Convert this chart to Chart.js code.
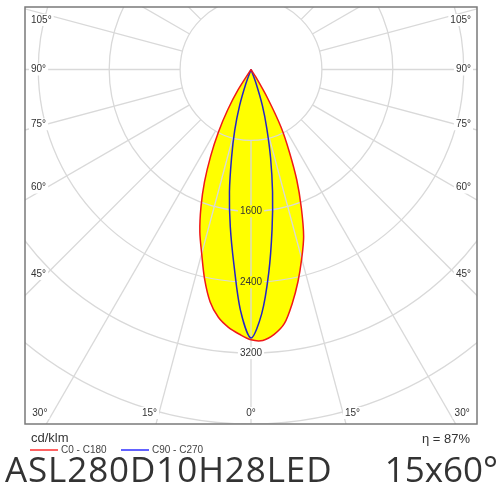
<!DOCTYPE html>
<html>
<head>
<meta charset="utf-8">
<script src="https://cdn.jsdelivr.net/npm/chart.js@4.4.1/dist/chart.umd.min.js"></script>
<style>
  html, body { margin: 0; padding: 0; background: #fff; }
</style>
</head>
<body>
<canvas id="chart" width="500" height="500"></canvas>
<script>
// gamma angles in degrees from nadir, intensities in cd/klm
const gammaAngles = [0, 2.5, 5, 7.5, 10, 12.5, 15, 17.5, 20, 22.5, 25, 27.5, 30, 32.5, 35, 37.5, 40, 50, 60, 70, 80, 90];
const c0   = [3050, 3060, 3000, 2890, 2680, 2450, 2210, 1975, 1660, 1350, 1020, 735, 375, 100, 0, 0, 0, 0, 0, 0, 0, 0];
const c180 = [3050, 2990, 2920, 2820, 2660, 2420, 2150, 1920, 1650, 1370, 1075, 795, 525, 270, 15, 0, 0, 0, 0, 0, 0, 0];
const c90  = [3030, 2760, 2300, 1820, 1400, 1020, 690, 430, 165, 0, 0, 0, 0, 0, 0, 0, 0, 0, 0, 0, 0, 0];
const c270 = [3030, 2720, 2210, 1790, 1400, 1010, 710, 430, 160, 0, 0, 0, 0, 0, 0, 0, 0, 0, 0, 0, 0, 0];

const seriesNames = ['C0 - C180', 'C90 - C270'];
const intensityTicks = [1600, 2400, 3200];
const gridCircles = [800, 1600, 2400, 3200, 4000, 4800, 5600, 6400];
const sideAngles = [105, 90, 75, 60, 45];
const bottomAngles = [30, 15, 0];
const unitLabel = 'cd/klm';
const efficiency = 'η = 87%';
const titleLeft = 'ASL280D10H28LED';
const titleRight = '15x60°';

const lineColors = ['#f01818', '#2424c8'];
const legendColors = ['#ff6262', '#6262ff'];

function rad(d) { return d * Math.PI / 180; }

// left half then right half, one closed curve through the centre
function polarPoints(leftVals, rightVals) {
    let pts = [];
    for (let i = gammaAngles.length - 1; i >= 0; i--) {
        let g = rad(gammaAngles[i]);
        pts.push({x: -leftVals[i] * Math.sin(g), y: -leftVals[i] * Math.cos(g)});
    }
    for (let i = 1; i < gammaAngles.length; i++) {
        let g = rad(gammaAngles[i]);
        pts.push({x: rightVals[i] * Math.sin(g), y: -rightVals[i] * Math.cos(g)});
    }
    return pts;
}

const labelFont = '10px "Liberation Sans", Arial, sans-serif';

function boxedText(ctx, text, x, y, align, bg) {
    ctx.font = labelFont;
    let w = ctx.measureText(text).width;
    let left = align === 'left' ? x : align === 'right' ? x - w : x - w / 2;
    ctx.fillStyle = bg;
    ctx.fillRect(left - 2, y - 6, w + 4, 12);
    ctx.fillStyle = '#333';
    ctx.textAlign = align;
    ctx.textBaseline = 'middle';
    ctx.fillText(text, x, y);
}

const photometric = {
    id: 'photometric',
    beforeDatasetsDraw(chart) {
        const {ctx, chartArea: a, scales: {x, y}} = chart;
        const cx = x.getPixelForValue(0), cy = y.getPixelForValue(0);
        const unit = (x.getPixelForValue(1000) - cx) / 1000;

        ctx.save();
        ctx.beginPath();
        ctx.rect(a.left, a.top, a.right - a.left, a.bottom - a.top);
        ctx.clip();

        // yellow fill of the C0 - C180 curve
        const line = chart.getDatasetMeta(0).dataset;
        line.updateControlPoints(a, 'x');
        ctx.beginPath();
        line.path(ctx);
        ctx.closePath();
        ctx.fillStyle = '#ffff00';
        ctx.fill();
        const dpr = chart.currentDevicePixelRatio;
        this.inside = intensityTicks.map(v => ctx.isPointInPath(cx * dpr, y.getPixelForValue(-v) * dpr));

        // polar grid
        ctx.strokeStyle = '#d9d9d9';
        ctx.lineWidth = 1.3;
        gridCircles.forEach(v => {
            ctx.beginPath();
            ctx.arc(cx, cy, v * unit, 0, Math.PI * 2);
            ctx.stroke();
        });
        const r0 = gridCircles[0] * unit, r1 = 8000 * unit;
        for (let ang = 0; ang < 360; ang += 15) {
            let s = Math.sin(rad(ang)), c = Math.cos(rad(ang));
            ctx.beginPath();
            ctx.moveTo(cx + s * r0, cy + c * r0);
            ctx.lineTo(cx + s * r1, cy + c * r1);
            ctx.stroke();
        }
        ctx.restore();
    },
    afterDatasetsDraw(chart) {
        const {ctx, chartArea: a, scales: {x, y}} = chart;
        const cx = x.getPixelForValue(0), cy = y.getPixelForValue(0);
        ctx.save();

        intensityTicks.forEach((v, i) => {
            boxedText(ctx, String(v), cx, y.getPixelForValue(-v), 'center', this.inside[i] ? '#ffff00' : '#fff');
        });

        // angle labels on the left and right edges
        const d = cx - a.left - 13;
        sideAngles.forEach(ang => {
            let ly = cy + d * Math.cos(rad(ang)) / Math.sin(rad(ang)) * 0.96;
            ly = Math.max(ly, a.top + 13);
            boxedText(ctx, ang + '°', a.left + 6, ly, 'left', '#fff');
            boxedText(ctx, ang + '°', a.right - 6, ly, 'right', '#fff');
        });
        // angle labels on the bottom edge
        const by = a.bottom - 11;
        bottomAngles.forEach(ang => {
            if (ang === 0) {
                boxedText(ctx, ang + '°', cx, by, 'center', '#fff');
                return;
            }
            let off = (a.bottom - cy) * Math.tan(rad(ang)) + 6.5;
            boxedText(ctx, ang + '°', cx - off, by, 'center', '#fff');
            boxedText(ctx, ang + '°', cx + off, by, 'center', '#fff');
        });

        ctx.strokeStyle = '#7a7a7a';
        ctx.lineWidth = 1.5;
        ctx.strokeRect(a.left, a.top, a.right - a.left, a.bottom - a.top);

        ctx.fillStyle = '#333';
        ctx.font = '13px "Liberation Sans", Arial, sans-serif';
        ctx.textBaseline = 'middle';
        ctx.textAlign = 'left';
        ctx.fillText(unitLabel, a.left + 6, 438);
        ctx.textAlign = 'right';
        ctx.fillText(efficiency, a.right - 7, 439);

        // legend
        seriesNames.forEach((name, i) => {
            let lx = a.left + 5 + i * 91;
            ctx.strokeStyle = legendColors[i];
            ctx.lineWidth = 2;
            ctx.beginPath();
            ctx.moveTo(lx, 450);
            ctx.lineTo(lx + 28, 450);
            ctx.stroke();
            ctx.fillStyle = '#444';
            ctx.font = labelFont;
            ctx.textAlign = 'left';
            ctx.fillText(name, lx + 31, 450.5);
        });

        ctx.fillStyle = '#333';
        ctx.font = '35px "Open Sans", sans-serif';
        ctx.textBaseline = 'alphabetic';
        ctx.textAlign = 'left';
        ctx.letterSpacing = '0.9px';
        ctx.fillText(titleLeft, 5, 482);
        ctx.letterSpacing = '0px';
        ctx.textAlign = 'right';
        ctx.fillText(titleRight, 498, 482);
        ctx.restore();
    }
};

const ctx = document.getElementById('chart');
new Chart(ctx, {
    type: 'scatter',
    data: {
        datasets: [
            {
                label: seriesNames[0],
                data: polarPoints(c180, c0),
                showLine: true,
                borderColor: lineColors[0],
                borderWidth: 1.5,
                pointRadius: 0,
                tension: 0.3,
                fill: false
            },
            {
                label: seriesNames[1],
                data: polarPoints(c270, c90),
                showLine: true,
                borderColor: lineColors[1],
                borderWidth: 1.5,
                pointRadius: 0,
                tension: 0.3,
                fill: false
            }
        ]
    },
    options: {
        responsive: false,
        animation: false,
        layout: { padding: {left: 25, top: 7, right: 23, bottom: 76} },
        scales: {
            x: { type: 'linear', min: -2550, max: 2550, display: false },
            y: { type: 'linear', min: -4000, max: 705, display: false }
        },
        plugins: {
            legend: { display: false },
            tooltip: { enabled: false }
        }
    },
    plugins: [photometric]
});
</script>
</body>
</html>
